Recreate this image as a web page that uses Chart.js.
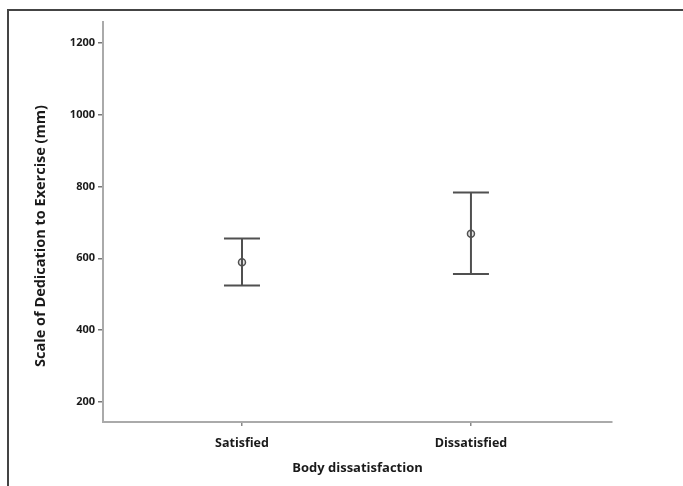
<!DOCTYPE html>
<html>
<head>
<meta charset="utf-8">
<script src="https://cdn.jsdelivr.net/npm/chart.js@4"></script>
<style>
  body { margin: 0; background: #fff; }
  #wrap { position: relative; width: 683px; height: 486px; }
  #frame {
    position: absolute; left: 7px; top: 9px; right: 0; bottom: 0;
    border-top: 2px solid #444; border-left: 2px solid #444;
    pointer-events: none;
  }
</style>
</head>
<body>
<div id="wrap">
  <canvas id="chart" width="683" height="486"></canvas>
  <div id="frame"></div>
</div>
<script>
// data
const categories = ["Satisfied", "Dissatisfied"];
const means = [589, 668];
const lower = [524, 556];
const upper = [655, 783];
const yTicks = [200, 400, 600, 800, 1000, 1200];

const xTitle = "Body dissatisfaction";
const yTitle = "Scale of Dedication to Exercise (mm)";

const lineColor = "#505050";
const fontFamily = "'Open Sans', 'Noto Sans', sans-serif";

// one whisker dataset per category: vertical line + caps (pointStyle line)
const whiskers = categories.map((c, i) => ({
    type: "line",
    data: [{ x: i, y: lower[i] }, { x: i, y: upper[i] }],
    borderColor: lineColor,
    borderWidth: 2,
    pointStyle: "line",
    pointRadius: 18,
    pointBorderWidth: 2,
    pointBorderColor: lineColor,
}));

const meanSet = {
    type: "scatter",
    data: categories.map((c, i) => ({ x: i, y: means[i] })),
    pointStyle: "circle",
    pointRadius: 3.5,
    pointBorderWidth: 1.5,
    pointBorderColor: lineColor,
    pointBackgroundColor: "#e6e6e6",
};

// y axis title, drawn a bit below the middle as in the picture
const yTitlePlugin = {
    id: "yTitle",
    afterDraw(chart) {
        const ctx = chart.ctx;
        ctx.save();
        ctx.translate(41, 236);
        ctx.rotate(-Math.PI / 2);
        ctx.font = "bold 14.5px " + fontFamily;
        ctx.fillStyle = "#1a1a1a";
        ctx.textAlign = "center";
        ctx.textBaseline = "middle";
        ctx.fillText(yTitle, 0, 0);
        ctx.restore();
    },
};

new Chart(document.getElementById("chart"), {
    data: { datasets: [...whiskers, meanSet] },
    options: {
        responsive: false,
        animation: false,
        events: [],
        layout: { padding: { top: 22, right: 71, left: 0, bottom: 0 } },
        plugins: { legend: { display: false }, tooltip: { enabled: false } },
        scales: {
            x: {
                type: "linear",
                min: -0.607,
                max: 1.616,
                afterBuildTicks: (s) => { s.ticks = categories.map((c, i) => ({ value: i })); },
                afterFit: (s) => { s.height = 64; },
                ticks: {
                    callback: (v) => categories[v],
                    font: { family: fontFamily, size: 12.5, weight: "bold" },
                    color: "#1a1a1a",
                    padding: 10,
                    maxRotation: 0,
                },
                grid: { drawOnChartArea: false, tickLength: 4, color: "#888", lineWidth: 1.5 },
                border: { display: true, color: "#aaaaaa", width: 2 },
                title: {
                    display: true,
                    text: xTitle,
                    font: { family: fontFamily, size: 13, weight: "bold" },
                    color: "#1a1a1a",
                    padding: { top: 0, bottom: 10 },
                },
            },
            y: {
                type: "linear",
                min: 144,
                max: 1258,
                afterBuildTicks: (s) => { s.ticks = yTicks.map((v) => ({ value: v })); },
                afterFit: (s) => { s.width = 103; },
                ticks: {
                    callback: (v) => String(v),
                    font: { family: fontFamily, size: 11, weight: "bold" },
                    color: "#1a1a1a",
                    padding: 3,
                },
                grid: { drawOnChartArea: false, tickLength: 5, color: "#777", lineWidth: 1.5 },
                border: { display: true, color: "#aaaaaa", width: 2 },
            },
        },
    },
    plugins: [yTitlePlugin],
});
</script>
</body>
</html>
